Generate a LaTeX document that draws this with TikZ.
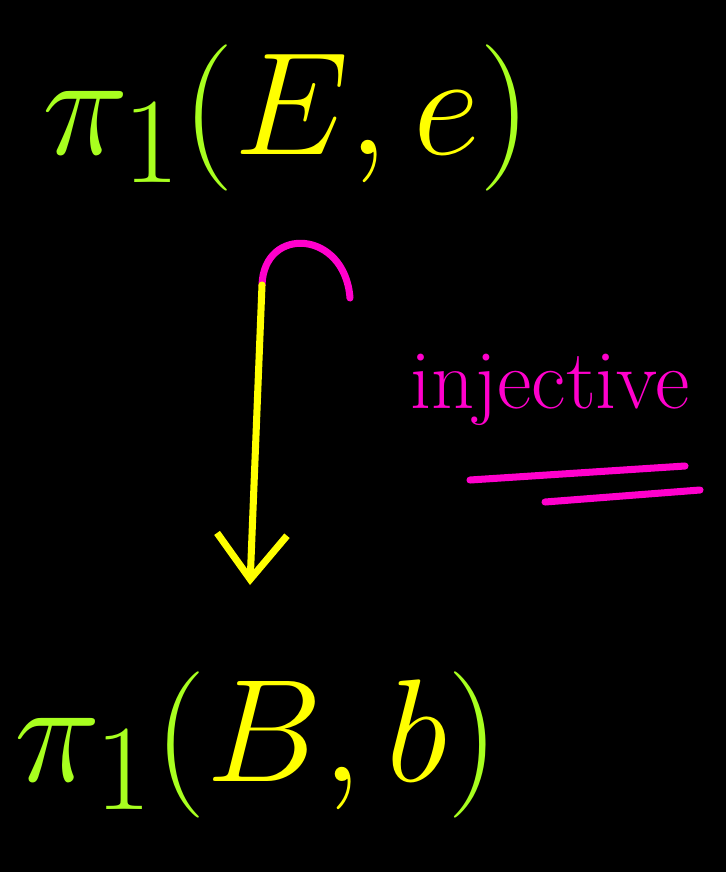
\documentclass[tikz,border=0pt]{standalone}
\usepackage{amsmath}
\usepackage{xcolor}
\usetikzlibrary{arrows.meta,positioning}
\definecolor{lime}{HTML}{A8FF1F}
\definecolor{ylw}{HTML}{FFFF00}
\definecolor{mag}{HTML}{FF00CC}
\newcommand{\bigpi}[1]{\scalebox{3.35}{\Huge\color{lime}$\pi_1($\color{ylw}$#1$\color{lime}$)$}}
\tikzset{
  grp/.style  = {inner sep=0pt},
  word/.style = {text=mag, font=\fontsize{48}{54}\selectfont, inner sep=0pt},
  arr/.style  = {-{Straight Barb[length=0.9cm,width=1.4cm]}, ylw,
                 line width=4pt, line cap=round, line join=round},
  hook/.style = {mag, line width=4pt, line cap=round}
}
\begin{document}
\begin{tikzpicture}[x=0.02cm,y=-0.02cm]
\fill[black] (0,0) rectangle (726,872);
\node[grp] (top) at (287,118) {\bigpi{E,e}};
\node[grp] (bot) at (257,745) {\bigpi{B,b}};
\node[word] (inj) at (550,390) {injective};
\coordinate (hk)  at (262,285);
\coordinate (tip) at (250,585);
\draw[hook] (hk) .. controls (264,225) and (345,230) .. (350,298);
\draw[arr]  (hk) -- (tip);
\draw[hook] (470,480) -- (685,466);
\draw[hook] (545,502) -- (700,490);
\end{tikzpicture}
\end{document}
